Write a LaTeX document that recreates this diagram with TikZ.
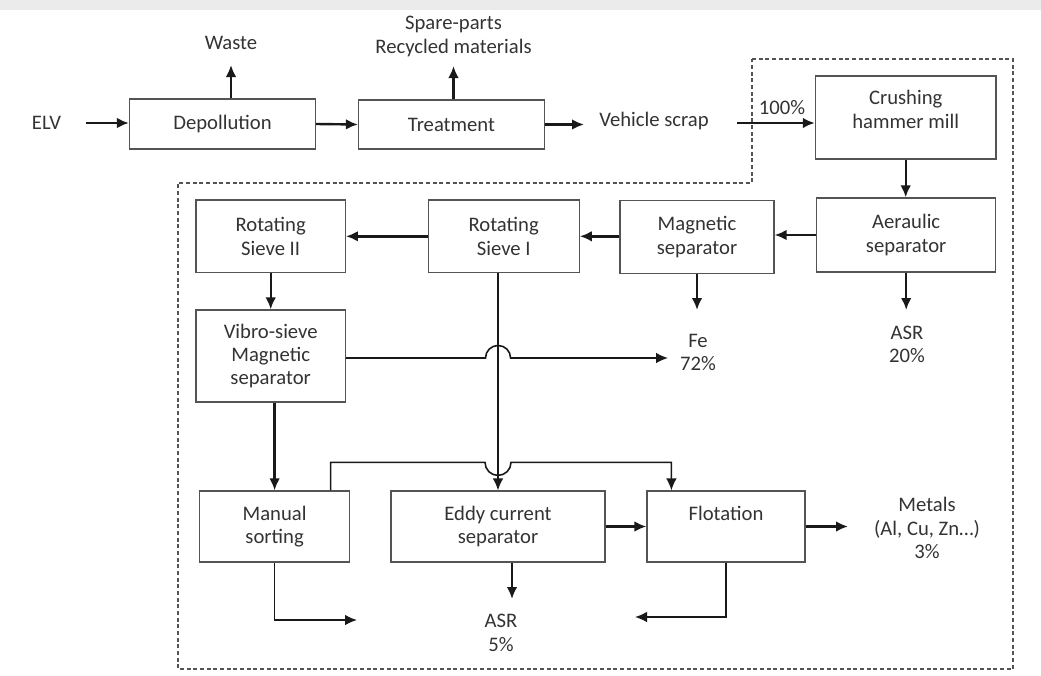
\documentclass[tikz,border=0pt]{standalone}
\usepackage{fontspec}
\setmainfont{Carlito}
\usetikzlibrary{arrows.meta}
\usetikzlibrary{calc}
\definecolor{boxc}{gray}{0.33}
\definecolor{txtc}{gray}{0.2}
\definecolor{arrc}{gray}{0.1}

\begin{document}
\begin{tikzpicture}[x=0.75pt, y=-0.75pt,
    every node/.style={font=\fontsize{15.5}{17.5}\selectfont, text=txtc},
    box/.style={draw=boxc, line width=0.9pt, rectangle, align=center},
    lbl/.style={align=center, inner sep=0pt},
    arr/.style={->, draw=arrc, line width=1.8pt},
    thinarr/.style={->, draw=arrc, line width=1.2pt},
    >={Latex[length=9pt,width=8pt]}]
    \useasboundingbox (0,0) rectangle (1041,675);
    \fill[black!8] (0,0) rectangle (1041,10);
    \draw[boxc, line width=0.8pt, dash pattern=on 3pt off 2pt]
        (752,59) -- (1013,59) -- (1013,669) -- (178,669) -- (178,183) -- (752,183) -- cycle;

    \node[box, minimum width=139.5pt, minimum height=37.5pt] (dep) at (222.5,124) {Depollution};
    \node[box, minimum width=139.5pt, minimum height=36.75pt] (treat) at (451.5,124.5) {Treatment};
    \node[box, minimum width=135.5pt, minimum height=62.25pt] (crush) at (905.7,117.5) {Crushing\\hammer mill\\[-5pt]\mbox{}};
    \node[box, minimum width=134.25pt, minimum height=55.5pt] (aer) at (906.2,235) {Aeraulic\\separator};
    \node[box, minimum width=115.5pt, minimum height=55pt] (mag) at (697,237) {Magnetic\\separator};
    \node[box, minimum width=113.25pt, minimum height=54.5pt] (rsa) at (503.7,236.3) {Rotating\\Sieve I};
    \node[box, minimum width=112pt, minimum height=54.5pt] (rsb) at (270.7,236.3) {Rotating\\Sieve II};
    \node[box, minimum width=112pt, minimum height=69pt] (vib) at (270.7,356) {Vibro-sieve\\Magnetic\\separator};
    \node[box, minimum width=112.5pt, minimum height=53.25pt] (man) at (274.6,526.5) {Manual\\sorting};
    \node[box, minimum width=160.5pt, minimum height=53.25pt] (eddy) at (498,526.5) {Eddy current\\separator};
    \node[box, minimum width=118.5pt, minimum height=53.25pt] (flot) at (726,526.5) {Flotation\\[2pt]\mbox{}};

    \node[lbl] (elv) at (46.5,123) {ELV};
    \node[lbl] (waste) at (231,43) {Waste};
    \node[lbl] (spare) at (453.5,36.5) {Spare-parts\\Recycled materials};
    \node[lbl] (scrap) at (654,121) {Vehicle scrap};
    \node[lbl] (pct) at (782,108) {100\%};
    \node[lbl] (fe) at (698,352.5) {Fe\\72\%};
    \node[lbl] (asra) at (907,344.5) {ASR\\20\%};
    \node[lbl] (asrb) at (501,633) {ASR\\5\%};
    \node[lbl] (metals) at (927,528) {Metals\\(Al, Cu, Zn…)\\3\%};

    \coordinate (elvR) at (86,123);
    \coordinate (wasteB) at (231,65);
    \coordinate (spareB) at (453.5,66);
    \coordinate (scrapL) at (584,124.5);
    \coordinate (scrapR) at (737,123);
    \coordinate (feT) at (697,310);
    \coordinate (asrT) at (906.2,310);
    \coordinate (feL) at (668,358);
    \coordinate (asrbT) at (512,599);
    \coordinate (manE) at (357,620);
    \coordinate (flotW) at (635,617);
    \coordinate (metW) at (848,526.5);
    \coordinate (mtop) at ([xshift=-14.7pt]man.north east);
    \coordinate (mup) at ($(mtop)+(0,-28)$);
    \coordinate (ftop) at ([xshift=18.75pt]flot.north west);

    \draw[arr] (elvR) -- (elvR -| dep.west);
    \draw[arr] (wasteB |- dep.north) -- (wasteB);
    \draw[arr] (spareB |- treat.north) -- (spareB);
    \draw[arr] (dep.east) -- (treat.west);
    \draw[arr] (treat.east) -- (scrapL);
    \draw[arr] (scrapR) -- (scrapR -| crush.west);
    \draw[arr] (crush.south) -- (crush.south |- aer.north);
    \draw[arr] (aer.west) -- (aer.west -| mag.east);
    \draw[arr] (rsa.east -| mag.west) -- (rsa.east);
    \draw[arr] (rsa.west) -- (rsa.west -| rsb.east);
    \draw[arr] (aer.south) -- (asrT);
    \draw[arr] (mag.south) -- (feT);
    \draw[arr] (rsb.south) -- (vib.north);
    \draw[arr] (vib.south -| man.north) -- (man.north);
    \draw[thinarr] (vib.east |- feL) -- ($(feL -| eddy.north)+(-12.5,0)$)
        arc[start angle=180, end angle=0, radius=9.4pt] -- (feL);
    \draw[thinarr] (eddy.north |- rsa.south) -- (eddy.north);
    \draw[thinarr] (mtop) -- (mup) -- ($(mup -| eddy.north)+(-13,0)$)
        arc[start angle=180, end angle=360, radius=9.75pt] -- (mup -| ftop) -- (ftop);
    \draw[arr] (eddy.east) -- (flot.west);
    \draw[arr] (flot.east) -- (metW);
    \draw[arr] ([xshift=10.5pt]eddy.south) -- (asrbT);
    \draw[thinarr] (man.south) |- (manE);
    \draw[thinarr] (flot.south) |- (flotW);
\end{tikzpicture}
\end{document}
